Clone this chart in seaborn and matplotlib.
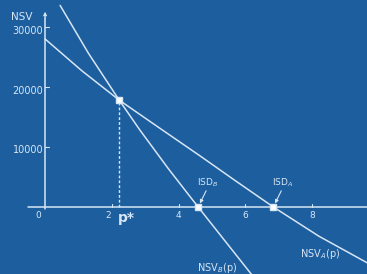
import matplotlib
matplotlib.use("Agg")
import matplotlib.pyplot as plt
import seaborn as sns
import pandas as pd

# values (price p, net sales value)
p_a = [0.0, 1.1, 2.22, 3.4, 4.64, 5.7, 6.83, 8.2, 9.7]
nsv_a = [28000, 22700, 17800, 13250, 8500, 4350, 0, -4900, -9500]
p_b = [0.45, 1.3, 2.22, 2.84, 3.7, 4.58, 6.2]
nsv_b = [33600, 25600, 17800, 12800, 6300, 0, -11400]
p_star = 2.22
nsv_star = 17800
isd = {"B": 4.58, "A": 6.83}
x_ticks = [2, 4, 6, 8]
y_ticks = [10000, 20000, 30000]

bg = "#1d5e9e"
fg = "#d6e6f5"

sns.set_theme(style="white")
plt.rcParams["font.family"] = ["DejaVu Sans"]

fig = plt.figure(figsize=(3.67, 2.74), dpi=100, facecolor=bg)
ax = fig.add_axes([0, 0, 1, 1], facecolor=bg)
ax.set_xlim(-1.35, 9.64)
ax.set_ylim(-11200, 34500)
ax.axis("off")

df_a = pd.DataFrame({"p": p_a, "nsv": nsv_a})
df_b = pd.DataFrame({"p": p_b, "nsv": nsv_b})
sns.lineplot(data=df_a, x="p", y="nsv", ax=ax, color=fg, lw=1.1, sort=True)
sns.lineplot(data=df_b, x="p", y="nsv", ax=ax, color=fg, lw=1.1, sort=True)

# axes
ax.plot([-0.5, 9.64], [0, 0], color=fg, lw=1.1)
ax.plot([0, 0], [-300, 31500], color=fg, lw=1.1)
ax.annotate("", xy=(0, 33000), xytext=(0, 31000),
            arrowprops=dict(arrowstyle="-|>", color=fg, lw=0.8, mutation_scale=5))
ax.text(-0.7, 31700, "NSV", color=fg, fontsize=7.5, ha="center", va="center")

for t in x_ticks:
    ax.plot([t, t], [0, 500], color=fg, lw=0.8)
    dx = -0.12 if t == 2 else 0
    ax.text(t + dx, -1400, str(t), color=fg, fontsize=6.5, ha="center", va="center")
ax.text(-0.2, -1400, "0", color=fg, fontsize=6.5, ha="center", va="center")
for t in y_ticks:
    ax.plot([0, 0.12], [t, t], color=fg, lw=0.8)
    ax.text(-0.05, t - 600, str(t), color=fg, fontsize=7, ha="right", va="center")

# p* point and dashed drop
ax.plot([p_star, p_star], [0, nsv_star], color=fg, lw=1, ls=(0, (2, 1.5)))
ax.plot([p_star], [nsv_star], marker="s", ms=5, color="white", mec=fg)
ax.text(p_star + 0.2, -1900, "p*", color=fg, fontsize=10, fontweight="bold",
        ha="center", va="center")

# ISD points
for k, x in isd.items():
    ax.plot([x], [0], marker="s", ms=4, color="white", mec=fg)
    ax.text(x + 0.28, 4000, f"ISD$_{k}$", color=fg, fontsize=6.5, ha="center", va="center")
    ax.annotate("", xy=(x + 0.02, 150), xytext=(x + 0.28, 3100),
                arrowprops=dict(arrowstyle="-|>", color=fg, lw=0.8, mutation_scale=5))

ax.text(5.15, -10200, "NSV$_B$(p)", color=fg, fontsize=7, ha="center", va="center")
ax.text(8.23, -7800, "NSV$_A$(p)", color=fg, fontsize=7, ha="center", va="center")

fig.savefig("out.png", dpi=100, facecolor=bg)
